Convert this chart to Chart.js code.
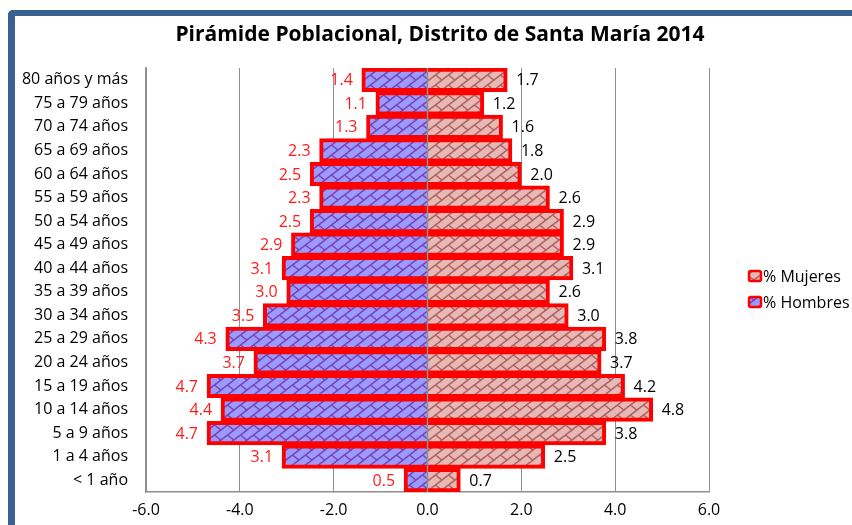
<!DOCTYPE html>
<html>
<head>
<meta charset="utf-8">
<script src="https://cdn.jsdelivr.net/npm/chart.js@4.4.1/dist/chart.umd.min.js"></script>
<style>
  html, body { margin: 0; padding: 0; background: #fff; }
  #wrap { position: relative; width: 852px; height: 525px; overflow: hidden; }
  #frame {
    position: absolute; left: 8px; top: 10px; width: 900px; height: 600px;
    border-left: 7px solid #3b6192; border-top: 6px solid #3b6192;
    border-top-left-radius: 5px; box-sizing: border-box;
  }
  #title {
    position: absolute; left: 0; top: 19px; width: 880px; text-align: center;
    font: bold 21px "Open Sans"; color: #000;
  }
  canvas { position: absolute; left: 0; top: 0; }
</style>
</head>
<body>
<div id="wrap">
  <div id="frame"></div>
  <canvas id="c" width="852" height="525"></canvas>
  <div id="title">Pirámide Poblacional, Distrito de Santa María 2014</div>
</div>
<script>
const categories = [
  "80 años y más", "75 a 79 años", "70 a 74 años", "65 a 69 años", "60 a 64 años",
  "55 a 59 años", "50 a 54 años", "45 a 49 años", "40 a 44 años", "35 a 39 años",
  "30 a 34 años", "25 a 29 años", "20 a 24 años", "15 a 19 años", "10 a 14 años",
  "5 a 9 años", "1 a 4 años", "< 1 año"
];
const hombres = [1.4, 1.1, 1.3, 2.3, 2.5, 2.3, 2.5, 2.9, 3.1, 3.0, 3.5, 4.3, 3.7, 4.7, 4.4, 4.7, 3.1, 0.5];
const mujeres = [1.7, 1.2, 1.6, 1.8, 2.0, 2.6, 2.9, 2.9, 3.1, 2.6, 3.0, 3.8, 3.7, 4.2, 4.8, 3.8, 2.5, 0.7];
const xTicks = [-6, -4, -2, 0, 2, 4, 6];

const FONT = '"Open Sans"';
const canvas = document.getElementById("c");
const ctx = canvas.getContext("2d");

// diagonal brick hatch, like the Excel fill
function brick(bg, fg) {
  const t = document.createElement("canvas");
  const w = 13, h = 10;
  t.width = w; t.height = h;
  const g = t.getContext("2d");
  g.fillStyle = bg;
  g.fillRect(0, 0, w, h);
  g.strokeStyle = fg;
  g.lineWidth = 1.5;
  g.beginPath();
  g.moveTo(-1.3, h + 1); g.lineTo(w + 1.3, -1);
  g.moveTo(w / 2, h / 2); g.lineTo(w + 0.6, h + 0.6);
  g.moveTo(-0.6, -0.6); g.lineTo(0.6, 0.6);
  g.stroke();
  return ctx.createPattern(t, "repeat");
}
const patM = brick("#e6b8b6", "#b06260");
const patH = brick("#9b9bff", "#7a44b2");

const extras = {
  id: "extras",
  afterDatasetsDraw(chart) {
    const c = chart.ctx;
    const area = chart.chartArea;
    c.save();
    // zero line over bars
    const x0 = chart.scales.x.getPixelForValue(0);
    c.strokeStyle = "#8f8f8f";
    c.lineWidth = 1.5;
    c.beginPath();
    c.moveTo(x0, area.top);
    c.lineTo(x0, area.bottom);
    c.stroke();

    c.font = "16px " + FONT;
    c.textBaseline = "middle";
    chart.getDatasetMeta(0).data.forEach((el, i) => {
      c.fillStyle = "#000";
      c.textAlign = "left";
      c.fillText(mujeres[i].toFixed(1), el.x + 9, el.y + 1);
    });
    chart.getDatasetMeta(1).data.forEach((el, i) => {
      c.fillStyle = "#ff1a1a";
      c.textAlign = "right";
      c.fillText(hombres[i].toFixed(1), el.x - 9, el.y + 1);
    });

    // legend
    const items = [["% Mujeres", patM], ["% Hombres", patH]];
    items.forEach(([txt, pat], k) => {
      const y = 276 + k * 26;
      c.beginPath();
      c.roundRect(749, y - 5, 12, 10, 2);
      c.fillStyle = pat;
      c.fill();
      c.strokeStyle = "#ff0000";
      c.lineWidth = 2.5;
      c.stroke();
      c.fillStyle = "#000";
      c.textAlign = "left";
      c.fillText(txt, 763, y + 1);
    });
    c.restore();
  }
};

new Chart(ctx, {
  type: "bar",
  data: {
    labels: categories,
    datasets: [
      {
        label: "% Mujeres",
        data: mujeres,
        backgroundColor: patM,
        borderColor: "#ff0000",
        borderWidth: 4,
        borderSkipped: "start",
        categoryPercentage: 1,
        barPercentage: 1,
      },
      {
        label: "% Hombres",
        data: hombres.map(v => -v),
        backgroundColor: patH,
        borderColor: "#ff0000",
        borderWidth: 4,
        borderSkipped: "start",
        categoryPercentage: 1,
        barPercentage: 1,
      },
    ],
  },
  options: {
    indexAxis: "y",
    responsive: false,
    animation: false,
    layout: { padding: { left: 10, top: 68, right: 143, bottom: 0 } },
    plugins: { legend: { display: false }, title: { display: false }, tooltip: { enabled: false } },
    scales: {
      x: {
        stacked: true,
        min: -6,
        max: 6,
        afterBuildTicks: s => { s.ticks = xTicks.map(v => ({ value: v })); },
        afterFit: s => { s.height = 33; },
        grid: { color: "#8f8f8f", drawTicks: false, lineWidth: 1 },
        border: { color: "#8f8f8f", width: 1.5 },
        ticks: { color: "#000", padding: 9, font: { family: FONT, size: 16 }, callback: v => Number(v).toFixed(1) },
      },
      y: {
        stacked: true,
        afterFit: s => { s.width = 136; },
        grid: { display: false, drawTicks: false },
        border: { color: "#8f8f8f", width: 1.5 },
        ticks: { color: "#000", padding: 18, font: { family: FONT, size: 16 } },
      },
    },
  },
  plugins: [extras],
});
</script>
</body>
</html>
